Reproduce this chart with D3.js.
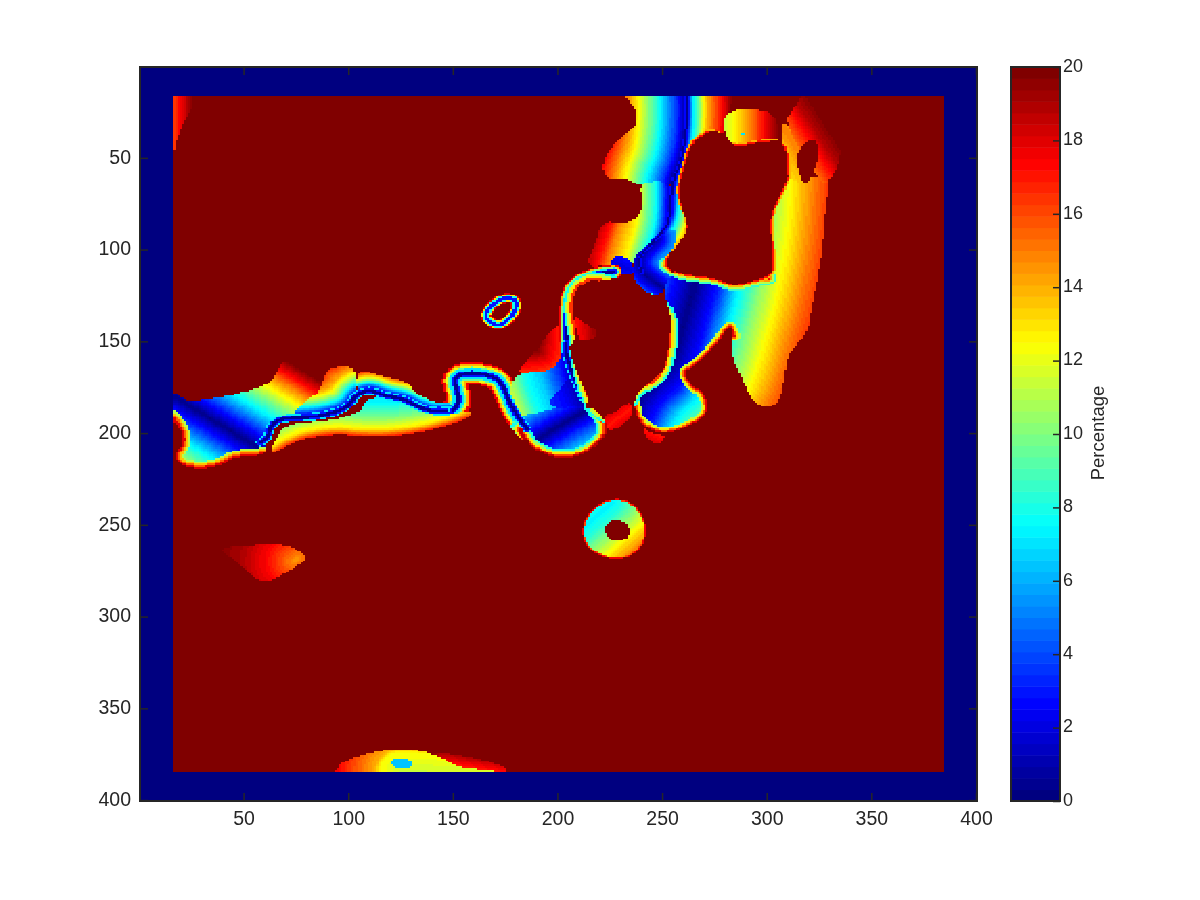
<!DOCTYPE html>
<html><head><meta charset="utf-8">
<script src="https://cdn.jsdelivr.net/npm/d3@7/dist/d3.min.js"></script>
<style>html,body{margin:0;background:#fff}#c,#s{position:absolute;left:0;top:0}text{font-family:"Liberation Sans",Arial,sans-serif;fill:#262626}</style>
</head><body><canvas id="c" width="1200" height="900"></canvas><svg id="s" width="1200" height="900"></svg>
<script>
// ---- axis content
const axisTicks=[50,100,150,200,250,300,350,400];
const barTicks=[0,2,4,6,8,10,12,14,16,18,20];
const barLabel="Percentage";
const gridSize=400, fieldMin=17, fieldMax=384, frameValue=0, fieldValue=20;

// ---- region outlines, in image row/column units
const cornerWedge=[[10,10],[32,10],[24,26],[19,36],[16,50],[10,50]];
const westSmear=[[36,262],[65,260.5],[72,261.5],[79,266],[80,269],[72,275],[62,281.5],[55,279],[47,270]];
const westSmearAxis=[[76,268],[74,270]];
const westFanTop=[[231,10],[232,16],[237.4,23.4],[238.2,30.7],[234.2,36.1],[228.6,40.7],[225,45.2],[221.1,54.3],[223.9,61.9],[233,61.2],[239,65.2],[262,65.2],[262.1,30.7],[261.3,10]];
const westFanLow=[[239,63],[240.9,74.3],[239,82.5],[231,86.1],[221.5,84.3],[218.3,96.1],[213,110],[226,108],[238,108],[247,97],[255,88],[255.5,63]];
const westFanLowAxis=[[222,50],[222.6,63],[222.5,80],[221.5,85],[218.3,96],[215,109]];
const mainRiver=[[261.3,5],[262.1,30.7],[259.7,50.7],[254.6,63.4],[254.1,85.2],[247,94.3],[237.4,101.5],[228.6,104.3]];
const eastStrip=[[261.3,10],[283,10],[283.3,22.5],[279.1,30.7],[279.6,37.9],[273.7,34.7],[263.7,43.4],[260,56.1],[258.4,65.2],[258.9,76.1],[262.1,85.2],[262.1,90.6],[251.7,105.2],[244.6,107.3],[243,101.5],[254.1,88.8],[254.6,63.4],[259.7,50.7],[262.1,30.7]];
const topLobe=[[279.6,28.4],[282.8,25],[286.8,23.2],[294.7,23.6],[302.7,25],[306.7,36.1],[307.5,40.1],[294.7,42],[286.8,44],[282.8,42.5],[279.6,36.1]];
const topLobeAxis=[[277,0],[277,60]];
const topLobeSpot=[[288,36],[289.4,36],[289.4,38],[288,38]];
const eastTopRight=[[308,31],[313,23],[317,16],[323,8],[330,22],[333,32],[336,44],[333,58],[328,64],[326,64]];
const eastTopLeft=[[307.2,41],[307.5,32.5],[309,30],[326,64],[309,63]];
const eastTopAxis=[[295,10],[330,72]];
const eastHole=[[318.6,41.6],[322.6,39.8],[324.7,43.4],[324.7,50.7],[321.8,59.7],[318.6,64.3],[316.3,61.6],[314.2,52.5],[315.1,46.1]];
const eastFan=[[309.9,60.7],[331,60],[328.2,76.1],[326.6,101.5],[325.8,105.2],[324.2,116.1],[321,134.3],[319.4,145.2],[313.9,152.4],[309.9,157.9],[308.3,170.6],[306.7,181.5],[301.9,186.1],[296.3,185.2],[291.6,179.7],[289.2,172.4],[285.2,163.3],[282.8,154.3],[284.4,147],[282.3,140.6],[278,148.8],[270.9,157.9],[264.5,164.2],[260,167],[265.3,175.2],[269.3,177],[272.4,186],[269.3,192.4],[259.7,197.9],[250.1,200.6],[242.2,197],[237.4,190.6],[236.6,181.5],[240.6,175.2],[250.1,167],[252.5,159.7],[253.3,150.6],[254.9,137.9],[250.9,123.4],[251.7,118],[262,100],[300,60]];
const eastAxis=[[272,40],[271,85],[265.3,121.6],[261.3,136.1],[258.1,150.6],[253.3,165.2],[240.6,177.9],[235,190]];
const lobeEdge=[[284.4,147],[282.3,140.6],[278,148.8],[270.9,157.9],[264.5,164.2],[260,167],[265.3,175.2],[269.3,177],[272.4,186],[269.3,192.4],[259.7,197.9],[250.1,200.6],[242.2,197],[237.4,190.6],[236.6,181.5]];
const blueBlob=[[225.4,104.3],[231,103.4],[235.8,106.1],[236.1,111.6],[234.2,114.3],[229.4,112.5],[225.4,111.6]];
const blueBand=[[238.2,101.5],[247,95.2],[254.1,87.9],[258,92],[252.5,105.2],[251.7,108.8],[256.5,113.3],[251.7,117.9],[250.9,123.4],[243.8,125.2],[235.8,116.1],[236.1,106.1]];
const blueBandAxis=[[247,94.3],[240.6,101.5],[238.7,107],[240.6,112.4],[245.4,117],[252,122]];
const westFront=[[15.8,176.9],[19.9,180.5],[24.7,182.9],[43.8,179.6],[54.2,176.4],[63.7,172.4],[66.1,165.5],[69.3,160.2],[78.9,166],[88.4,170.5],[86,181.5],[81.2,186.9],[66.9,192],[63,194.2],[60.5,203.3],[61,212],[46.2,213],[40.6,216.5],[33.5,219.3],[23,219],[17.5,215],[17.5,210.5],[19.9,207.8],[21.5,202.4],[18.3,195.1],[10,191]];
const westValley=[[10,175.3],[90,231]];
const westFrontEdge=[[15,191.4],[18.3,195.1],[21.5,202.4],[19.9,207.8],[17.5,210.5],[17.5,215],[23,219],[33.5,219.3],[40.6,216.5],[46.2,213],[60,212],[67,209.6]];
const riverWest=[[58,205],[61.7,202.4],[63,195.1],[69.3,191.8],[82,191.4],[91.6,189.6],[100.4,185.5],[104,178.7],[110.7,176.4],[117.1,179.6],[126.7,181.5],[132.2,185.1],[140.2,188.4],[149.8,187.8]];
const riverBend=[[149.8,187.8],[153.3,183.3],[151.4,174.2],[150.6,170.6],[154.5,167.3],[165.7,167.8],[172.9,171.5],[176.5,181.5],[179.2,187.8],[182.4,193.3],[185.6,197.8]];
const upperBankA=[[80,182],[86,178],[88.4,170.5],[90,166],[94.8,163.3],[104,164.5],[104,178.7],[100.4,185.5],[91.6,189.6],[82,191.4],[72,191]];
const upperBankB=[[104,164.5],[114,168.5],[126.6,171.5],[129,173.5],[132,177.5],[136,180.5],[141.8,183.5],[149.8,183.5],[151,188],[140.2,189.5],[132.2,186],[126.7,182.5],[117.1,180.5],[110.7,177.4],[104,179.7]];
const lowerBank=[[70.9,196],[75.7,194.5],[91.6,193.3],[106,188.7],[108.3,181.5],[117.1,180.5],[126.6,182.4],[133.8,186.5],[140.2,189.6],[151.4,189.6],[156.9,187.8],[159.6,190.5],[151.4,194.5],[135.4,199.6],[120.3,201.8],[106,201.8],[94.8,200.5],[80.5,202.4],[73.3,205.4],[67,209.6],[62,211],[66,203],[68,198]];
const lowerBankAxis=[[60.5,214],[67,209.6],[73.3,205.4],[80.5,202.4],[94.8,200.5],[106,201.8],[120,201.8],[135.4,199.6],[151.4,194.5],[159.6,190.5]];
const centreFanRed=[[180,167.5],[191.2,167],[196,166],[200.8,161.5],[202.7,150.6],[202.5,139],[197.6,143.4],[191.2,152],[186.4,159.7]];
const centreFanRedAxis=[[180,167.5],[196,166],[200.8,161.5],[202.7,150.6],[202.5,139]];
const centreField=[[179,168],[190,166.5],[196,166],[200.5,162],[202,156],[202,148],[205,146],[207,165.1],[209,172.4],[212,181.5],[215.1,188.7],[197.6,186.9],[189.6,190.5],[183.2,193.3],[179.2,188.7],[176.9,182.4]];
const centreFieldAxis=[[204.3,136],[204.3,148.8],[206.3,165.1],[208.7,172.4],[211.9,181.5],[214,188]];
const centreDeep=[[196,182.4],[200.7,176.9],[206.3,167.8],[207.9,172.4],[211.9,181.5],[215.1,187.8],[197.6,186.5]];
const southPool=[[184.8,197.8],[180,190.5],[189.6,189.6],[197.6,186.5],[216.7,185.1],[223,193.3],[223.8,200],[218.3,207.3],[210.3,212.7],[202.3,213.8],[194.4,212],[186.4,206.9]];
const southPoolAxis=[[180,211],[189.6,204.2],[202.3,195.1],[215.1,186.9],[225,180]];
const southPoolEdge=[[182,198],[186.4,206.9],[194.4,212],[202.3,213.8],[210.3,212.7],[218.3,207.3],[223.8,200],[223,193.3],[216.7,185.1]];
const ringRiver=[[227,112.1],[223.1,112.5],[215.1,114.3],[208.7,118.3],[205.2,124.3],[204.3,136.1],[204.3,148.8]];
const ringRiverLow=[[204.3,148.8],[203.6,155.2],[205.9,163.3],[209,172.4],[212.7,181.5]];
const mainChannel=[[261.3,10],[262.1,30.7],[259.7,50.7],[254.6,63.4],[254.1,85.2],[247,94.3],[240.6,101.5],[238.7,107],[240.6,112.4]];
const bigIsland=[[273.7,34.7],[278.8,39.8],[282.8,43],[286.8,43.8],[294.7,41.9],[307.5,40.1],[309.9,50.7],[309.9,60.7],[308.3,65.2],[306.7,69.7],[301.9,79.7],[301.9,92.5],[303.5,110.6],[299.5,115.2],[293.1,117],[285.2,119.7],[280.4,117.9],[274,115.2],[266.1,114.3],[256.5,112.4],[251.7,107.9],[252.5,105.2],[258.1,99.7],[262.9,89.7],[262.1,81.5],[258.9,74.3],[258.1,65.2],[261.3,52.5],[263.7,43.4],[267.7,38.9]];
const bigIslandFoot=[[301,115.5],[293.1,117],[285.2,119.7],[280.4,117.9],[274,115.2],[266.1,114.3],[256.5,112.4],[251.7,107.9]];
const centreIsland=[[207.9,123.4],[211.9,118.8],[216.7,116.1],[223.1,117.9],[231,120.6],[239,127],[247,128.8],[252.5,135.2],[253.3,147.9],[251.7,157.9],[250.1,165.2],[245.4,171.5],[237.4,175.2],[233.4,183.3],[228.6,190.6],[223.9,190.6],[218.3,186],[215.1,179.7],[211.9,167],[210.3,156.1],[209.5,145.2],[207.1,134.3]];
const islandWedge=[[207.5,135],[212,140],[220,144],[217,149],[211,150.5],[209.5,145]];
const islandWedgeAxis=[[208,138],[209,150]];
const neckWedge=[[222,190],[228,189],[235,182],[236,190],[230,197],[224,199]];
const neckWedgeAxis=[[223,197],[236,186]];
const underLobe=[[240,196],[246,201],[252,201],[249,206],[244,205]];
const underLobeAxis=[[240,197],[250,202]];
const donutOuter=[[224.6,236],[232.6,236],[239,241.4],[242.9,250.5],[241.3,261.4],[234.2,267.7],[226.2,268.7],[218.2,265.9],[212.7,260.5],[211.5,251.4],[214.3,244.1],[219.8,238.7]];
const donutHole=[[225.4,247.4],[231,247.4],[235,252.3],[233.4,257.8],[227.8,259.2],[223.8,256.8],[222.2,251.4]];
const donutAxis=[[206,258],[226,238]];
const tinyRing=[[165.3,136.1],[168,130.6],[173.6,126.4],[179.2,126.4],[180.8,130.6],[178.4,136.1],[175.2,139.7],[171.2,141.5],[167.6,139.2]];
const southBump=[[93.2,390],[93.2,384.5],[97.2,379.1],[106.7,375.5],[117.9,372.4],[130.6,372.4],[138.6,374.2],[146.5,378.2],[154.5,382.7],[172,383.5],[172,390]];
const southBumpAxis=[[125,384],[165,386]];
const southTail=[[138,374.2],[150,375],[165,378],[176,382.5],[175,386],[150,382],[146,379]];
const southTailAxis=[[146,380],[175,385]];
const southSpot=[[120.2,378.2],[125.8,376.9],[131.4,379.1],[129.8,382.7],[125,382.7],[121,381.5]];

// ---- distance (image units) -> value stops read across each region
const stopsWestFanTop=[[0,.3],[4.8,3.5],[12.7,7.5],[23,12.5],[28.7,15],[35,17.5],[41,20]];
const stopsWestFanLow=[[0,18.5],[4.5,17],[8,15],[16,12.5],[20,10],[24.7,7.5],[28.7,3.5],[32,.5]];
const stopsEastStrip=[[0,.3],[3,7],[6,10],[8,12.5],[10,14],[16,17],[22,20]];
const stopsLobe=[[3,11.5],[9.6,13],[16,15],[22,17.5],[29.5,20]];
const stopsEastTopRight=[[0,15],[8,17.5],[12,18.8],[19,20]];
const stopsEastTopLeft=[[0,15],[6,13.8],[12,13],[18,12.5]];
const stopsEast=[[0,.3],[11,3],[20,7],[30,10],[40,12.5],[51,15],[64,17.5],[75,20]];
const stopsBand=[[0,.5],[4,2.5],[8,5],[14,7]];
const stopsValley=[[0,.3],[8,3.5],[16,7],[24,10],[30,12.5],[36,15],[41,17.5],[47,20]];
const stopsBankA=[[0,.5],[2,3],[5,7],[9,11],[13,14],[20,17],[25,19]];
const stopsBankB=[[0,.5],[2,3],[4,6.5],[6,10],[7.5,12.5],[9.5,15],[12,18]];
const stopsLower=[[0,17],[3.5,13],[10,10],[18,7.5],[25,6.5]];
const stopsFanRed=[[0,16.5],[6,18],[12,20]];
const stopsCentre=[[0,1],[5,3],[15,6.5],[23,8],[30,11],[40,15]];
const stopsDeep=[[0,1],[8,2.5],[16,3.5]];
const stopsPool=[[0,.3],[5,2.5],[10,4.5],[15,6.5],[20,8]];
const stopsCorner=[[0,16],[10,20]];
const stopsSmear=[[0,14.5],[6,16],[14,17.5],[25,19],[40,20]];
const stopsWedge=[[0,17],[12,20]];
const stopsDonut=[[0,7.2],[6,8.5],[14,11],[20,13],[28,15.5]];
const stopsBump=[[0,11.5],[10,12.5],[12,14],[20,15.5],[30,17.5],[34,18]];
const stopsTail=[[0,17],[8,20]];
const stopsBlob=[[0,2],[8,3.5]];

// ---- stacked ribbon widths and values
const ribbonFull=[[7.5,17.5],[6.5,14],[5.5,10],[4.2,7],[3,3],[1.6,.6]];
const ribbonThin=[[4.2,7],[3,3],[1.6,.6]];
const ribbonDark=[[2,2.5],[1,.6]];
const ribbonBend=[[12,17.5],[10,14],[8.4,12],[7,9.5],[5.6,7],[3.6,3],[1.6,.8]];
const ribbonTiny=[[5,18],[4,13],[3,8],[1.6,3]];
const edgeLobe=[[6,11],[4.5,13],[3,15.5],[1.5,18]];
const edgePool=[[9,8],[7,10.5],[5,13],[3.2,16],[1.8,18.5]];
const edgeWestFront=[[8,11],[6,13.5],[4,15.5],[2.2,18]];
const edgeBigIsland=[[3,14],[1.6,17]];
const edgeBigFoot=[[7,8.5],[5,11],[3,14.5],[1.5,17.5]];
const edgeCentreIsland=[[9,8],[7,11],[5,13],[3,16.5]];
const edgeDonut=[[1.6,16],[.8,17.5]];

// ---- scales
const x=d3.scaleLinear().domain([.5,400.5]).range([140,977]);
const y=d3.scaleLinear().domain([.5,400.5]).range([67,801]);
const barY=d3.scaleLinear().domain([0,20]).range([801,67]);
const jet=d3.scaleLinear().domain([0,.125,.375,.625,.875,1]).range(["#000080","#0000ff","#00ffff","#ffff00","#ff0000","#800000"]).interpolate(d3.interpolateRgb);
const levels=d3.range(64);
const cmap=levels.map(i=>d3.color(jet(i/63)).formatHex());
const colorOf=v=>cmap[Math.min(63,Math.max(0,Math.floor(v/20*64)))];

// ---- raster
const grid=d3.range(gridSize).map(j=>new Float32Array(gridSize).fill(frameValue));
for(let j=fieldMin;j<=fieldMax;j++)for(let i=fieldMin;i<=fieldMax;i++)grid[j-1][i-1]=fieldValue;
function smooth(p,closed){let q=p;for(let k=0;k<2;k++){const o=[];const n=q.length;
  if(!closed)o.push(q[0]);
  for(let i=0;i<(closed?n:n-1);i++){const a=q[i],b=q[(i+1)%n];
    o.push([a[0]*.75+b[0]*.25,a[1]*.75+b[1]*.25],[a[0]*.25+b[0]*.75,a[1]*.25+b[1]*.75]);}
  if(!closed)o.push(q[n-1]);q=o;}return q;}
function segDist(px,py,a,b){const dx=b[0]-a[0],dy=b[1]-a[1];const L=dx*dx+dy*dy;let t=L?((px-a[0])*dx+(py-a[1])*dy)/L:0;t=Math.max(0,Math.min(1,t));return Math.hypot(px-a[0]-t*dx,py-a[1]-t*dy);}
function lineDist(px,py,l){let m=1e9;for(let i=0;i<l.length-1;i++){const d=segDist(px,py,l[i],l[i+1]);if(d<m)m=d;}return m;}
function setCell(i,j,v){if(i<fieldMin||i>fieldMax||j<fieldMin||j>fieldMax)return;grid[j-1][i-1]=v;}
function region(outline,axis,stops){const poly=smooth(outline,true);
  const xs=poly.map(p=>p[0]),ys=poly.map(p=>p[1]);
  const ax=axis.length>2?smooth(axis,false):axis;
  const f=d3.scaleLinear().domain(stops.map(s=>s[0])).range(stops.map(s=>s[1])).clamp(true);
  for(let j=Math.floor(d3.min(ys));j<=Math.ceil(d3.max(ys));j++)for(let i=Math.floor(d3.min(xs));i<=Math.ceil(d3.max(xs));i++){
    if(!d3.polygonContains(poly,[i,j]))continue;
    setCell(i,j,f(lineDist(i,j,ax)));
  }}
function flat(outline,v){const poly=smooth(outline,true);const xs=poly.map(p=>p[0]),ys=poly.map(p=>p[1]);
  for(let j=Math.floor(d3.min(ys));j<=Math.ceil(d3.max(ys));j++)for(let i=Math.floor(d3.min(xs));i<=Math.ceil(d3.max(xs));i++)
    if(d3.polygonContains(poly,[i,j]))setCell(i,j,v);}
function ribbon(path,layers,onlyInside,closed){let l=smooth(path,!!closed);if(closed)l=l.concat([l[0]]);
  const xs=l.map(p=>p[0]),ys=l.map(p=>p[1]);const pad=d3.max(layers,d=>d[0])/2+1;
  const x0=Math.floor(d3.min(xs)-pad),x1=Math.ceil(d3.max(xs)+pad),y0=Math.floor(d3.min(ys)-pad),y1=Math.ceil(d3.max(ys)+pad);
  for(let j=y0;j<=y1;j++)for(let i=x0;i<=x1;i++){
    if(i<fieldMin||i>fieldMax||j<fieldMin||j>fieldMax)continue;
    const d=lineDist(i,j,l);
    const inside=grid[j-1][i-1]<fieldValue;
    for(const [w,v] of layers){if(d<=w/2&&(!onlyInside||inside))grid[j-1][i-1]=v;}
  }}

region(cornerWedge,[[16,10],[16,50]],stopsCorner);
region(westSmear,westSmearAxis,stopsSmear);
region(southTail,southTailAxis,stopsTail);
region(southBump,southBumpAxis,stopsBump);
flat(southSpot,6.4);
region(centreFanRed,centreFanRedAxis,stopsFanRed);
region(westFanTop,mainRiver,stopsWestFanTop);
region(westFanLow,westFanLowAxis,stopsWestFanLow);
region(eastStrip,mainRiver,stopsEastStrip);
region(topLobe,topLobeAxis,stopsLobe);
flat(topLobeSpot,7);
region(eastFan,eastAxis,stopsEast);
region(eastTopLeft,eastTopAxis,stopsEastTopLeft);
region(eastTopRight,eastTopAxis,stopsEastTopRight);
ribbon(lobeEdge,edgeLobe,true);
flat(eastHole,20);
region(blueBand,blueBandAxis,stopsBand);
region(blueBlob,[[226,106],[236,112]],stopsBlob);
ribbon(ringRiver,ribbonFull,false);
ribbon(riverBend,ribbonBend,false);
region(westFront,westValley,stopsValley);
ribbon(westFrontEdge,edgeWestFront,true);
region(upperBankA,riverWest,stopsBankA);
region(upperBankB,riverWest,stopsBankB);
region(lowerBank,lowerBankAxis,stopsLower);
ribbon(riverWest,ribbonThin,false);
region(centreField,centreFieldAxis,stopsCentre);
region(centreDeep,centreFieldAxis,stopsDeep);
region(southPool,southPoolAxis,stopsPool);
ribbon(southPoolEdge,edgePool,true);
ribbon(riverBend,ribbonThin,false);
ribbon(ringRiverLow,ribbonThin,false);
ribbon(ringRiver,ribbonThin,false);
ribbon(mainChannel,ribbonDark,false);
ribbon(bigIslandFoot,edgeBigFoot,true);
ribbon(bigIsland,edgeBigIsland,true,true);
flat(bigIsland,20);
ribbon(centreIsland,edgeCentreIsland,true,true);
flat(centreIsland,20);
region(islandWedge,islandWedgeAxis,stopsWedge);
region(neckWedge,neckWedgeAxis,stopsWedge);
region(underLobe,underLobeAxis,stopsWedge);
region(donutOuter,donutAxis,stopsDonut);
ribbon(donutOuter,edgeDonut,true,true);
flat(donutHole,20);
ribbon(tinyRing,ribbonTiny,false,true);

// ---- draw cells
const ctx=document.getElementById("c").getContext("2d");
ctx.fillStyle="#fff";ctx.fillRect(0,0,1200,900);
for(let j=1;j<=gridSize;j++){const y0=Math.round(y(j-.5)),y1=Math.round(y(j+.5));
  let start=1,cur=colorOf(grid[j-1][0]);
  for(let i=2;i<=gridSize+1;i++){const col=i<=gridSize?colorOf(grid[j-1][i-1]):null;
    if(col!==cur){ctx.fillStyle=cur;const x0=Math.round(x(start-.5)),x1=Math.round(x(i-.5));ctx.fillRect(x0,y0,x1-x0,y1-y0);start=i;cur=col;}}
}
// ---- colorbar
const svg=d3.select("#s");
svg.append("g").selectAll("rect").data(levels).join("rect")
  .attr("x",1011).attr("width",49)
  .attr("y",d=>barY((d+1)*20/64)).attr("height",d=>barY(d*20/64)-barY((d+1)*20/64)+.5)
  .attr("fill",d=>cmap[d]);
// ---- frames and axes
const ink="#262626";
function frame(x0,y0,x1,y1){svg.append("rect").attr("x",x0).attr("y",y0).attr("width",x1-x0).attr("height",y1-y0).attr("fill","none").attr("stroke",ink).attr("stroke-width",2);}
frame(140,67,977,801);frame(1011,67,1060,801);
const tickLen=8;
function styleAxis(g,size){g.selectAll(".domain").remove();g.selectAll("line").attr("stroke",ink).attr("stroke-width",1.5);g.selectAll("text").attr("font-size",size).attr("fill",ink);}
svg.append("g").attr("transform","translate(0,801)").call(d3.axisBottom(x).tickValues(axisTicks).tickSize(-tickLen).tickPadding(10)).call(styleAxis,19.5);
svg.append("g").attr("transform","translate(0,67)").call(d3.axisTop(x).tickValues(axisTicks).tickSize(-tickLen).tickFormat("")).call(styleAxis,19.5);
svg.append("g").attr("transform","translate(140,0)").call(d3.axisLeft(y).tickValues(axisTicks).tickSize(-tickLen).tickPadding(9)).call(styleAxis,19.5).selectAll("text").attr("y",-1);
svg.append("g").attr("transform","translate(977,0)").call(d3.axisRight(y).tickValues(axisTicks).tickSize(-tickLen).tickFormat("")).call(styleAxis,19.5);
svg.append("g").attr("transform","translate(1060,0)").call(d3.axisRight(barY).tickValues(barTicks).tickSize(-7).tickPadding(3)).call(styleAxis,18).selectAll("text").attr("y",-1.5);
svg.append("text").attr("transform","translate(1104,433) rotate(-90)").attr("text-anchor","middle").attr("font-size",18.5).text(barLabel);
</script></body></html>
